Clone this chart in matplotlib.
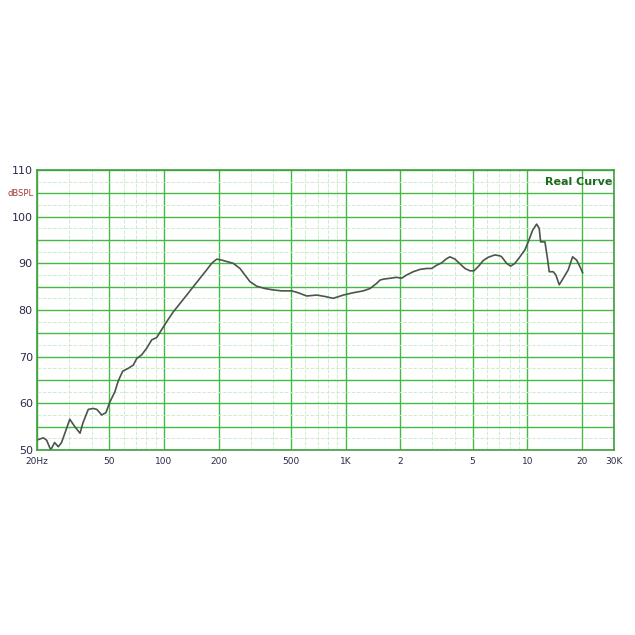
import matplotlib
matplotlib.use("Agg")
import matplotlib.pyplot as plt
from matplotlib.ticker import NullFormatter

# frequency response
freq = [20, 20.5, 21.7, 22.6, 23.8, 25.0, 26.2, 27.3, 28.9, 30.3, 32.3, 34.5, 35.8,
        38.3, 40.8, 42.7, 45.4, 47.9, 50.4, 53.7, 56.0, 59.3, 63.6, 67.8, 70.8,
        75.4, 80.3, 85.6, 91.2, 97.1, 103.5, 112.5, 122.5, 133.4, 145, 157.8,
        171.8, 183, 195, 207.8, 216.6, 240.6, 262, 279, 297, 324, 360, 399, 444,
        504, 548, 610, 692, 769, 854, 970, 1101, 1250, 1361, 1481, 1544, 1610,
        1754, 1908, 2033, 2166, 2355, 2564, 2791, 2974, 3169, 3376, 3565, 3750,
        3996, 4257, 4536, 4833, 5082, 5369, 5719, 6093, 6633, 7068, 7222, 7692,
        8093, 8547, 9106, 9702, 10117, 10697, 11252, 11628, 11836, 12500, 12870,
        13200, 13886, 14368, 14980, 15760, 16790, 17754, 18678, 19472, 20152]
spl = [52.1, 52.3, 52.6, 52.1, 50.0, 51.6, 50.7, 51.6, 54.3, 56.6, 55.0, 53.6, 55.8,
       58.7, 58.9, 58.7, 57.5, 58.0, 60.3, 62.5, 64.8, 66.9, 67.5, 68.2, 69.6,
       70.4, 71.8, 73.6, 74.1, 75.8, 77.5, 79.6, 81.4, 83.2, 85.0, 86.8,
       88.6, 90.0, 90.9, 90.7, 90.5, 90.0, 88.9, 87.5, 86.1, 85.1, 84.6, 84.3, 84.1,
       84.1, 83.7, 83.0, 83.2, 82.9, 82.5, 83.2, 83.7, 84.1, 84.6, 85.7, 86.4, 86.6,
       86.8, 87.0, 86.8, 87.5, 88.2, 88.7, 88.9, 88.9, 89.6, 90.1, 90.9, 91.4,
       90.9, 89.9, 88.9, 88.4, 88.4, 89.3, 90.6, 91.3, 91.8, 91.6, 91.4, 90.0,
       89.4, 90.0, 91.4, 92.9, 94.6, 97.1, 98.4, 97.5, 94.6, 94.6, 91.4,
       88.2, 88.2, 87.5, 85.4, 86.8, 88.6, 91.4, 90.7, 89.3, 88.0]

xticks = [20, 50, 100, 200, 500, 1000, 2000, 5000, 10000, 20000, 30000]
xlabels = ['20Hz', '50', '100', '200', '500', '1K', '2', '5', '10', '20', '30K']
xminor = [30, 40, 60, 70, 80, 90, 300, 400, 600, 700, 800, 900,
          3000, 4000, 6000, 7000, 8000, 9000]
yticks = [50, 55, 60, 65, 70, 75, 80, 85, 90, 95, 100, 105, 110]
ylabels = ['50', '', '60', '', '70', '', '80', '', '90', '', '100', '', '110']

fig = plt.figure(figsize=(6.35, 6.35), dpi=100)
ax = fig.add_axes([37 / 635, 185 / 635, 577 / 635, 280 / 635])

ax.semilogx(freq, spl, color='#4a564a', lw=1.2)
ax.set_xlim(20, 30000)
ax.set_ylim(50, 110)

ax.set_xticks(xticks)
ax.set_xticklabels(xlabels)
ax.set_xticks(xminor, minor=True)
ax.xaxis.set_minor_formatter(NullFormatter())
ax.set_yticks(yticks)
ax.set_yticklabels(ylabels)
ax.set_yticks([52.5 + 5 * i for i in range(12)], minor=True)

ax.grid(which='major', color='#44b944', lw=1.0)
ax.grid(which='minor', color='#cdeccd', lw=0.7, ls='--')
ax.tick_params(which='both', length=0)
ax.tick_params(axis='y', labelsize=8, labelcolor='#2b2b4a', pad=3)
ax.tick_params(axis='x', labelsize=6.5, labelcolor='#2b2b4a', pad=5)
for s in ax.spines.values():
    s.set_color('#3f9f3f')
    s.set_linewidth(1.2)

ax.text(-0.005, 105, 'dBSPL', transform=ax.get_yaxis_transform(), ha='right',
        va='center', fontsize=6, color='#a03838')
ax.text(0.997, 0.975, 'Real Curve', transform=ax.transAxes, ha='right', va='top',
        fontsize=8, fontweight='bold', color='#1d6b1d')

fig.savefig('out.png', dpi=100, facecolor='white')
